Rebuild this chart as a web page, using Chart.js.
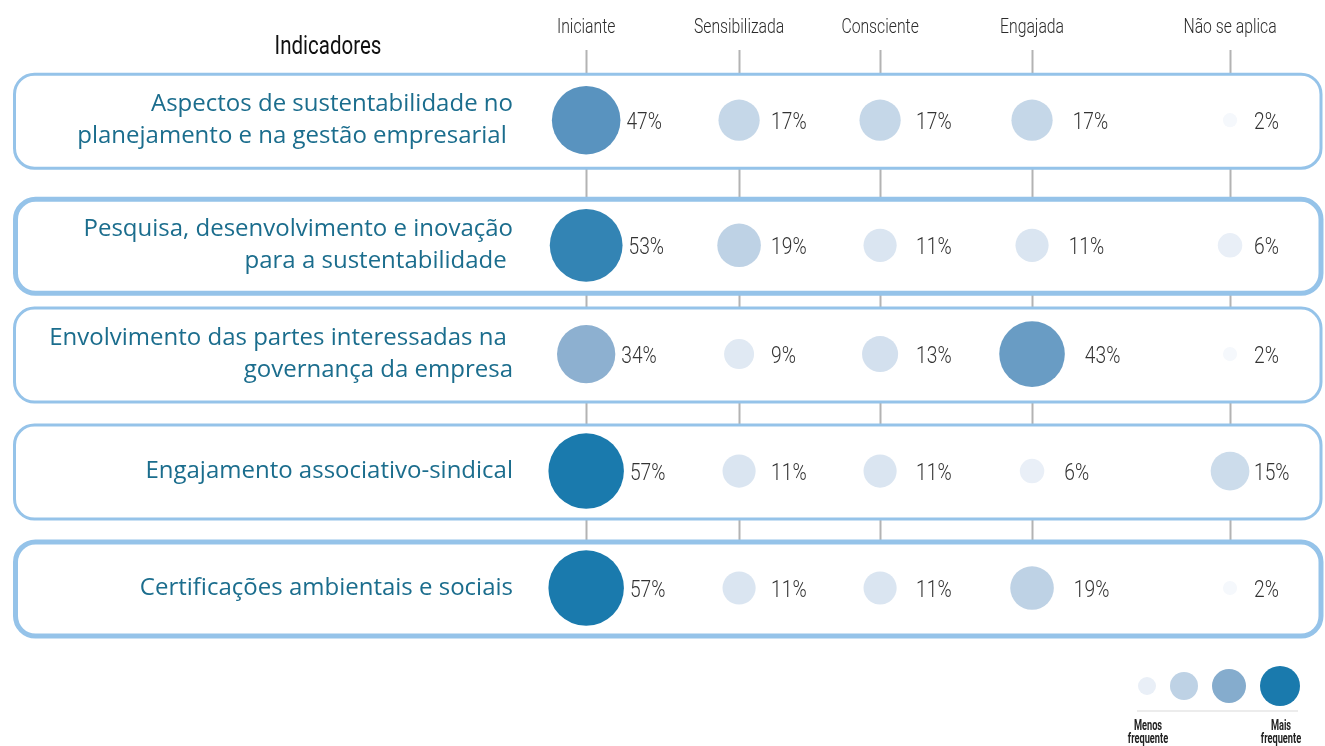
<!DOCTYPE html>
<html>
<head>
<meta charset="utf-8">
<script src="https://cdn.jsdelivr.net/npm/chart.js@4/dist/chart.umd.min.js"></script>
<style>
  html, body { margin: 0; padding: 0; background: #ffffff; }
  canvas { display: block; }
</style>
</head>
<body>
<canvas id="c" width="1325" height="746"></canvas>
<script>
// ---- data ----
const COLUMNS = ['Iniciante', 'Sensibilizada', 'Consciente', 'Engajada', 'Não se aplica'];
const ROW_LABELS = [
  ['Aspectos de sustentabilidade no', 'planejamento e na gestão empresarial '],
  ['Pesquisa, desenvolvimento e inovação', 'para a sustentabilidade '],
  ['Envolvimento das partes interessadas na ', 'governança da empresa'],
  ['Engajamento associativo-sindical'],
  ['Certificações ambientais e sociais']
];
const ASPECTOS   = [47, 17, 17, 17, 2];
const PESQUISA   = [53, 19, 11, 11, 6];
const ENVOLV     = [34, 9, 13, 43, 2];
const ENGAJ      = [57, 11, 11, 6, 15];
const CERTIF     = [57, 11, 11, 19, 2];
const VALUES = [ASPECTOS, PESQUISA, ENVOLV, ENGAJ, CERTIF];
const HEADER = 'Indicadores';
const LEGEND_LOW = ['Menos', 'frequente'];
const LEGEND_HIGH = ['Mais', 'frequente'];

// ---- layout (axis units, not data) ----
const COL_POS = [0, 0.95, 1.826, 2.77, 4];
const ROW_POS = [0, 1.07, 2, 3, 4];

// ---- styles ----
const FAM = "Roboto, 'Liberation Sans', sans-serif";
const STOPS = [[0,[251,252,254]],[11,[218,229,241]],[17,[197,215,232]],[34,[141,176,208]],[47,[89,147,191]],[57,[26,122,173]]];
function colorFor(v) {
  for (let i = 1; i < STOPS.length; i++) {
    if (v <= STOPS[i][0]) {
      const [a, ca] = STOPS[i-1], [b, cb] = STOPS[i];
      const t = (v - a) / (b - a);
      const c = ca.map((x, k) => Math.round(x + (cb[k] - x) * t));
      return `rgb(${c[0]},${c[1]},${c[2]})`;
    }
  }
  const c = STOPS[STOPS.length-1][1];
  return `rgb(${c[0]},${c[1]},${c[2]})`;
}
const radiusFor = v => 5 * Math.sqrt(v);
const LABEL_GAP = [r => r + 6, () => 32, () => 36, r => r + 20, () => 24];
const THICK_ROWS = [1, 4];

const points = [];
VALUES.forEach((row, i) => row.forEach((v, j) => {
  points.push({ x: COL_POS[j], y: ROW_POS[i], r: radiusFor(v), v: v, col: j });
}));

function roundRect(ctx, x, y, w, h, r) {
  ctx.beginPath();
  ctx.moveTo(x + r, y);
  ctx.lineTo(x + w - r, y);
  ctx.arcTo(x + w, y, x + w, y + r, r);
  ctx.lineTo(x + w, y + h - r);
  ctx.arcTo(x + w, y + h, x + w - r, y + h, r);
  ctx.lineTo(x + r, y + h);
  ctx.arcTo(x, y + h, x, y + h - r, r);
  ctx.lineTo(x, y + r);
  ctx.arcTo(x, y, x + r, y, r);
  ctx.closePath();
}

// condensed text: horizontal squeeze of a regular face
function drawText(ctx, text, x, y, o) {
  ctx.save();
  ctx.font = `${o.weight || 'normal'} ${o.size}px ${FAM}`;
  ctx.fillStyle = o.color;
  ctx.textBaseline = 'alphabetic';
  ctx.textAlign = 'left';
  const w = ctx.measureText(text).width * o.sx;
  const left = o.align === 'center' ? x - w / 2 : (o.align === 'right' ? x - w : x);
  ctx.translate(left, y);
  ctx.scale(o.sx, 1);
  ctx.fillText(text, 0, 0);
  ctx.restore();
}

const decor = {
  id: 'decor',
  beforeDraw(chart) {
    const ctx = chart.ctx, xs = chart.scales.x, ys = chart.scales.y;
    ctx.save();
    const lastTop = ys.getPixelForValue(ROW_POS[ROW_POS.length - 1]) - 46;
    ctx.strokeStyle = '#b3b3b3';
    ctx.lineWidth = 2;
    COL_POS.forEach(p => {
      const x = Math.round(xs.getPixelForValue(p)) + 0.5;
      ctx.beginPath();
      ctx.moveTo(x, chart.chartArea.top);
      ctx.lineTo(x, lastTop);
      ctx.stroke();
    });
    ROW_POS.forEach((p, i) => {
      const cy = ys.getPixelForValue(p);
      const lw = THICK_ROWS.includes(i) ? 5 : 3;
      ctx.lineWidth = lw;
      ctx.strokeStyle = '#95c3e9';
      ctx.fillStyle = '#ffffff';
      const x0 = 13 + lw / 2;
      roundRect(ctx, x0, cy - 46, 1321 - x0, 94, 20);
      ctx.fill();
      ctx.stroke();
    });
    ctx.restore();
  },
  afterDatasetsDraw(chart) {
    const ctx = chart.ctx, xs = chart.scales.x;
    drawText(ctx, HEADER, 328, 54, { size: 25, sx: 0.82, color: '#111', align: 'center' });
    COL_POS.forEach((p, j) => {
      drawText(ctx, COLUMNS[j], xs.getPixelForValue(p), 33, { size: 21, sx: 0.75, color: '#2b2b2b', align: 'center', weight: 300 });
    });
    const meta = chart.getDatasetMeta(0);
    meta.data.forEach((el, k) => {
      const d = points[k];
      drawText(ctx, d.v + '%', el.x + LABEL_GAP[d.col](d.r), el.y + 9, { size: 24, sx: 0.8, color: '#333', weight: 300 });
    });
    ctx.save();
    const lg = [[1147, 9, 6], [1184, 14, 19], [1229, 17, 36], [1280, 20, 57]];
    lg.forEach(([x, r, v]) => {
      ctx.beginPath();
      ctx.arc(x, 686, r, 0, Math.PI * 2);
      ctx.fillStyle = colorFor(v);
      ctx.fill();
    });
    ctx.strokeStyle = '#ececec';
    ctx.lineWidth = 2;
    ctx.beginPath();
    ctx.moveTo(1137, 711); ctx.lineTo(1298, 711);
    ctx.stroke();
    ctx.restore();
    LEGEND_LOW.forEach((t, i) => drawText(ctx, t, 1148, 730 + i * 13, { size: 14, sx: 0.66, color: '#222', align: 'center', weight: 'bold' }));
    LEGEND_HIGH.forEach((t, i) => drawText(ctx, t, 1281, 730 + i * 13, { size: 14, sx: 0.66, color: '#222', align: 'center', weight: 'bold' }));
  }
};

new Chart(document.getElementById('c'), {
  type: 'bubble',
  data: {
    datasets: [{
      data: points,
      backgroundColor: c => colorFor(c.raw ? c.raw.v : 0),
      borderWidth: 0,
      hoverBorderWidth: 0,
      clip: false
    }]
  },
  options: {
    responsive: false,
    animation: false,
    events: [],
    layout: { autoPadding: false, padding: { left: 0, right: 0, top: 0, bottom: 96 } },
    plugins: { legend: { display: false }, tooltip: { enabled: false } },
    scales: {
      x: {
        type: 'linear', position: 'top', min: -0.38, max: 4.59,
        grid: { display: false, drawTicks: false },
        border: { display: false },
        afterFit: s => { s.height = 50; s.paddingLeft = 0; s.paddingRight = 0; },
        afterBuildTicks: s => { s.ticks = COL_POS.map(v => ({ value: v })); },
        ticks: { display: false }
      },
      y: {
        type: 'linear', reverse: true, min: -0.6, max: 4.53,
        grid: { display: false, drawTicks: false },
        border: { display: false },
        afterFit: s => { s.width = 525; s.paddingTop = 0; s.paddingBottom = 0; },
        afterBuildTicks: s => { s.ticks = ROW_POS.map(v => ({ value: v })); },
        ticks: {
          callback: (v, i) => ROW_LABELS[i],
          autoSkip: false, padding: 12,
          color: '#1b6d8d', font: { family: "'Open Sans', 'Noto Sans', sans-serif", size: 24, lineHeight: 1.35 }
        }
      }
    }
  },
  plugins: [decor]
});
</script>
</body>
</html>
